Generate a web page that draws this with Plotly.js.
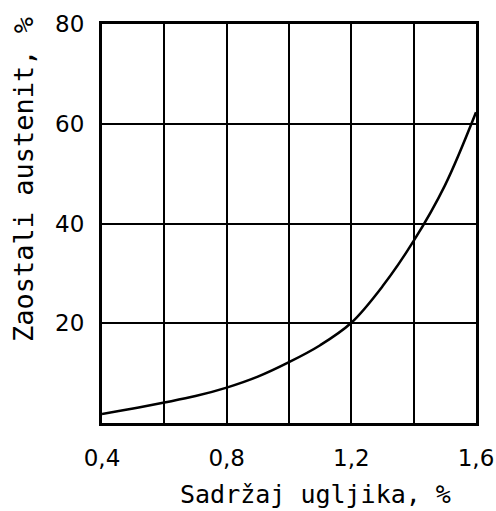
<!DOCTYPE html>
<html>
<head>
<meta charset="utf-8">
<script src="https://cdn.plot.ly/plotly-3.0.1.min.js"></script>
<style>html,body{margin:0;padding:0;background:#fff;}#chart{width:496px;height:511px;}</style>
</head>
<body>
<div id="chart"></div>
<script>
// Carbon content (%)
var carbon = [0.4, 0.5, 0.6, 0.7, 0.8, 0.9, 1.0, 1.1, 1.2, 1.3, 1.4, 1.5, 1.6];
// Retained austenite (%)
var austenite = [1.8, 2.9, 4.1, 5.4, 7.1, 9.3, 12.2, 15.6, 20.1, 27.4, 36.5, 47.6, 62.3];
var xTickVals = [0.4, 0.8, 1.2, 1.6];
var xTickText = ["0,4", "0,8", "1,2", "1,6"];
var yTickVals = [20, 40, 60, 80];
var yTickText = ["20", "40", "60", "80"];
var xTitle = "Sadržaj ugljika, %";
var yTitle = "Zaostali austenit, %";

var trace = {
  x: carbon, y: austenite, mode: 'lines', type: 'scatter',
  line: {color: '#000', width: 2.5, shape: 'spline', smoothing: 1}, hoverinfo: 'none'
};
var tickFont = {family: 'DejaVu Sans, sans-serif', size: 23, color: '#000'};
var layout = {
  width: 496, height: 511,
  margin: {l: 102, r: 20, t: 24, b: 88},
  paper_bgcolor: '#fff', plot_bgcolor: '#fff',
  showlegend: false,
  xaxis: {
    range: [0.4, 1.6], tickvals: xTickVals, ticktext: xTickText,
    showgrid: true, gridcolor: '#000', gridwidth: 2,
    minor: {dtick: 0.2, tick0: 0.4, showgrid: true, gridcolor: '#000', gridwidth: 2},
    showline: true, linecolor: '#000', linewidth: 3, mirror: true,
    zeroline: false, ticks: '', tickfont: tickFont, ticklabelstandoff: 12
  },
  yaxis: {
    range: [0, 80], tickvals: yTickVals, ticktext: yTickText,
    showgrid: true, gridcolor: '#000', gridwidth: 2,
    showline: true, linecolor: '#000', linewidth: 3, mirror: true,
    zeroline: false, ticks: '', tickfont: tickFont, ticklabelstandoff: 10
  },
  annotations: [
    {text: xTitle, xref: 'paper', yref: 'paper', x: 0.57, y: -0.178,
     xanchor: 'center', yanchor: 'middle', showarrow: false,
     font: {family: 'DejaVu Sans Mono, monospace', size: 25, color: '#000'}},
    {text: yTitle, xref: 'paper', yref: 'paper', x: -0.211, y: 0.609,
     xanchor: 'center', yanchor: 'middle', showarrow: false, textangle: -90,
     font: {family: 'DejaVu Sans Mono, monospace', size: 27, color: '#000'}}
  ]
};
Plotly.newPlot('chart', [trace], layout, {staticPlot: true, displayModeBar: false});
</script>
</body>
</html>
